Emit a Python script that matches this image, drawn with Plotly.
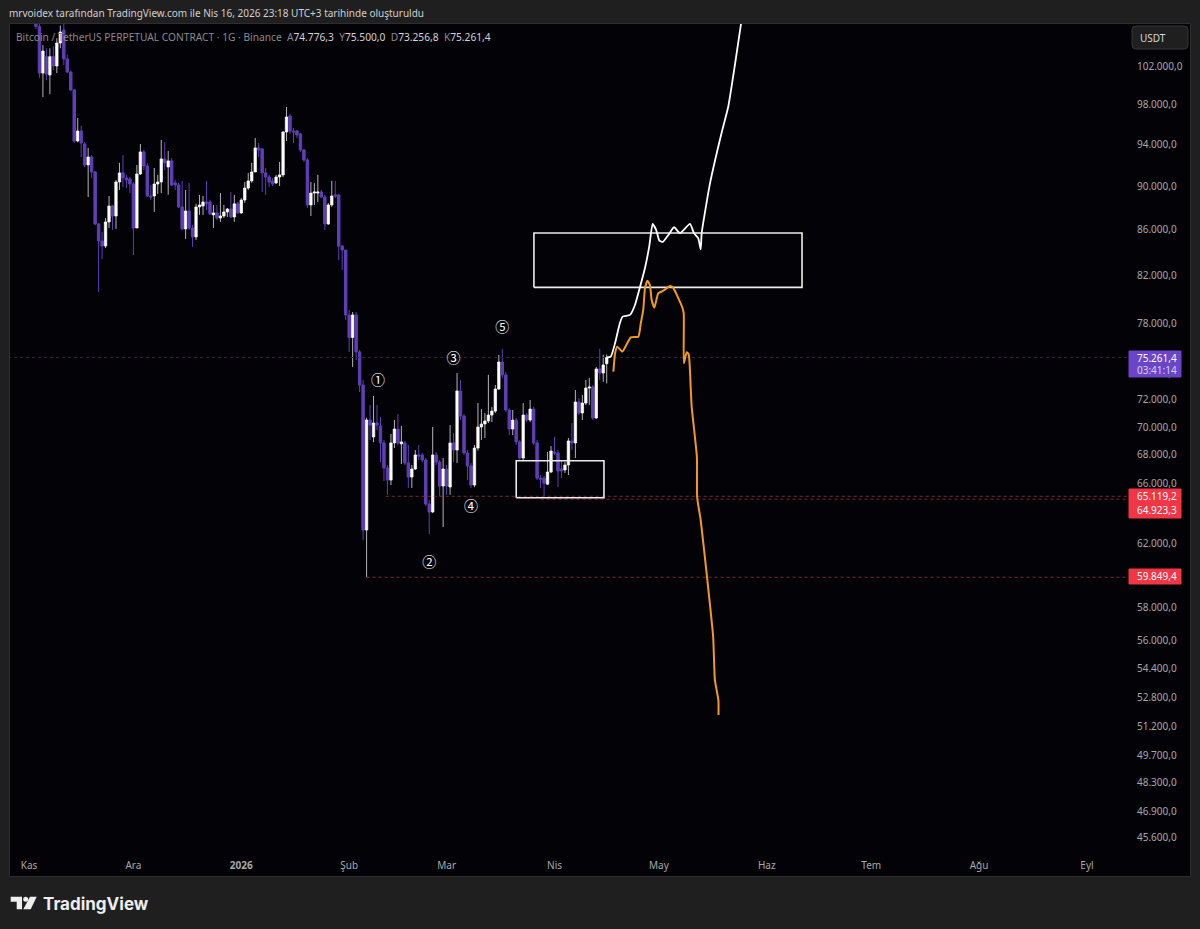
import pandas as pd
import plotly.graph_objects as go

# candles, Nov 3 2025 -> Apr 16 2026
opens = [107000,106300,101250,103000,101050,103000,102000,104480,105900,102750,
         101360,99480,94330,95320,94030,92000,92770,91330,86510,84990,
         84540,86690,88150,87230,90380,91240,90760,90660,90190,86140,
         91140,93260,91900,89070,89070,90190,90380,92580,91800,92390,
         90290,90100,88060,86060,87690,86140,85350,88060,88150,88520,
         88520,87330,87510,87050,87230,87600,87870,87140,88340,87510,
         88700,89810,90480,91330,93650,93550,91240,90850,90480,90290,
         90850,91050,95220,96820,95320,95320,95020,93450,92480,88240,
         89340,89340,89440,88970,86510,88240,89170,89170,84540,84190,
         78680,76850,78680,75700,73130,62870,70510,69280,70290,70070,
         68850,67070,66230,68850,69850,68780,68850,67420,66440,67000,
         67990,67990,67630,64600,64060,67990,67490,65820,67000,65750,
         68850,68340,72680,70800,68130,67210,65890,68480,70000,70220,
         70440,70880,71170,72830,74910,73910,71250,69850,70510,68920,
         67770,70880,70510,71320,68850,66370,66370,65950,66790,68200,
         68130,67000,66930,67280,68990,68850,71850,71030,71770,72900,
         72980,70660,74370,74060,74776.3]
highs = [108000,108000,104250,103900,103900,104100,105000,106400,107000,103200,
         101500,99600,96620,95820,94230,93650,92960,91400,86600,85790,
         87040,89070,88240,90570,92200,92960,91050,90850,90380,92000,
         94030,93450,92200,90100,91710,91050,94430,94230,93350,92670,
         90570,90290,90480,89630,90290,86420,88350,89170,89070,90480,
         88700,88240,88240,89340,88240,87960,89440,89170,88520,88880,
         90380,91240,92200,94630,94130,93650,91710,91050,90760,91050,
         92290,95320,97730,97030,95620,95420,95120,93550,92670,90380,
         90290,91050,89630,89170,88430,90480,90480,89260,84630,84190,
         79090,78920,78920,75860,73520,70680,71620,72300,71620,70730,
         69060,67280,69490,70510,70950,70070,68990,68700,67280,68340,
         68700,68130,67770,64870,70000,68200,67630,67770,67280,70140,
         69560,74060,73520,70950,68340,67420,68700,71770,71320,71030,
         73910,71470,73130,75470,75940,74140,71400,71250,70660,69060,
         71770,71030,72000,71470,69060,66580,66510,68200,68620,69280,
         68340,67630,67490,69200,70290,72750,72150,72380,73520,73680,
         73130,74520,75940,75470,75500]
lows = [106000,100750,98750,100500,99050,101575,101250,103900,102100,101250,
        99400,94130,94200,92770,91800,88970,90760,86400,80590,83400,
        84360,86150,85970,86060,89630,89900,89810,89340,83750,86140,
        91050,91520,88970,88700,87600,89260,89340,91520,89180,90000,
        89630,87960,85970,85170,85970,84460,85080,87330,87330,87780,
        87330,86150,86870,86690,87050,87140,87050,86690,87420,87420,
        88430,89630,90290,91330,92770,89440,89170,89900,90000,90190,
        90000,90850,94330,95020,94130,94630,93260,92290,87960,87230,
        88240,88520,88880,85970,86420,88060,88880,83320,82460,78270,
        75700,74520,75070,72600,62210,59849,69060,68900,69780,67490,
        66160,65220,65890,68480,68700,67350,67280,65690,65690,66930,
        67630,67490,64460,62610,63990,67280,65120,63060,65220,65220,
        67490,67420,70510,67990,66230,65690,65750,68300,69060,69200,
        70290,70360,71030,72750,73680,71100,69420,69420,68700,67630,
        67630,70360,70360,68700,66230,65690,65120,65890,66720,67990,
        65750,66370,66720,66580,68340,67770,70880,70510,71620,71620,
        70510,70590,73520,73370,73256.8]
closes = [106300,101250,103600,101150,103000,102000,104480,105680,102750,101360,
          99480,94330,95320,94130,92000,92770,91330,86510,84990,84540,
          86690,88150,87230,90380,91240,90760,90570,90190,86140,91140,
          93260,91900,89070,88970,90190,90380,92580,92200,92390,90100,
          90100,88060,86060,87690,86140,85350,88060,88240,88520,88340,
          87420,87510,87050,87230,87600,87870,87140,88340,87510,88700,
          89810,90480,91330,93650,93450,91240,90850,90380,90190,90850,
          91050,95220,96720,95320,95220,94920,93450,92480,88240,89340,
          89440,89440,88970,86510,88240,89070,89070,84540,84190,78680,
          76850,78680,75700,73130,62870,70510,70140,70290,70140,68850,
          67070,66230,68850,69850,68850,68920,67420,66440,67000,67990,
          67920,67630,64600,64060,67990,67490,65820,67000,65820,68850,
          68340,72680,70800,68130,67210,65890,68480,70000,70220,70440,
          70880,71170,72830,74910,73910,71250,69850,70510,68920,67770,
          70880,70510,71320,68850,66370,66300,66020,66790,68270,68130,
          66860,66860,67280,68990,68850,71850,71030,71770,72900,72980,
          70660,74370,74060,74680,75261.4]
dates = pd.date_range(end="2026-04-16", periods=len(closes), freq="D")

# hand drawn paths
white_dates = ["2026-04-16", "2026-04-17 04:00", "2026-04-18 10:00", "2026-04-19 19:00", "2026-04-20 14:00",
               "2026-04-22 17:00", "2026-04-24 03:00", "2026-04-25 14:00", "2026-04-27", "2026-04-28 05:00",
               "2026-04-29 05:00", "2026-04-30 05:00", "2026-05-01 03:00", "2026-05-02 03:00", "2026-05-03 17:00",
               "2026-05-05 08:00", "2026-05-07 02:00", "2026-05-09 22:00", "2026-05-11 02:00", "2026-05-12 07:00",
               "2026-05-13", "2026-05-13 07:00", "2026-05-15 17:00", "2026-05-19", "2026-05-20 22:00",
               "2026-05-22 22:00", "2026-05-24 14:00", "2026-05-25 05:00"]
white_prices = [75261, 75330, 76410, 78020, 78540, 78680, 79500, 81030, 82630, 84480,
                86510, 85970, 85020, 84900, 85520, 86210, 85680, 86510, 85680, 85230,
                84250, 85700, 90290, 95120, 97760, 102320, 106570, 108130]
orange_dates = ["2026-04-17 22:00", "2026-04-18 10:00", "2026-04-19 01:00", "2026-04-20 12:00", "2026-04-22 22:00",
                "2026-04-25 02:00", "2026-04-25 19:00", "2026-04-26 12:00", "2026-04-27", "2026-04-27 17:00",
                "2026-04-28 10:00", "2026-04-28 22:00", "2026-04-29 17:00", "2026-04-30 19:00", "2026-05-02 07:00",
                "2026-05-04 05:00", "2026-05-05", "2026-05-07 17:00", "2026-05-08 03:00", "2026-05-08 04:00",
                "2026-05-09", "2026-05-09 14:00", "2026-05-10 03:00", "2026-05-10 10:00", "2026-05-11 22:00",
                "2026-05-12", "2026-05-13", "2026-05-14 17:00", "2026-05-16 14:00", "2026-05-17 02:00",
                "2026-05-18 02:00", "2026-05-18 03:00"]
orange_prices = [74160, 75620, 76120, 75730, 76860, 76910, 78000, 79090, 80890, 81540,
                 81170, 79910, 79280, 80470, 80690, 81090, 80980, 79310, 78820, 74810,
                 75680, 75470, 73000, 71500, 67830, 65020, 63530, 60090, 56250, 53770,
                 52650, 51840]

# drawn boxes: date from, date to, price low, price high
big_box = ["2026-03-26 02:00", "2026-06-11 03:00", 80970, 85700]
small_box = ["2026-03-21", "2026-04-15 05:00", 65020, 67580]

wave_labels = ["①", "②", "③", "④", "⑤"]
wave_dates = ["2026-02-09 07:00", "2026-02-24", "2026-03-03", "2026-03-08", "2026-03-17"]
wave_prices = [73440, 60740, 75070, 64390, 77610]

# dotted price levels
level_prices = [75261.4, 65119.2, 64923.3, 59849.4]
level_starts = ["2025-10-26", "2026-02-11 12:00", "2026-03-28", "2026-02-06"]
level_colors = ["#33202f", "#7a2a34", "#7a2a34", "#7a2a34"]

price_ticks = [102000, 98000, 94000, 90000, 86000, 82000, 78000, 74000, 72000, 70000, 68000, 66000,
               64000, 62000, 60000, 58000, 56000, 54400, 52800, 51200, 49700, 48300, 46900, 45600]
price_tick_text = ["102.000,0", "98.000,0", "94.000,0", "90.000,0", "86.000,0", "82.000,0", "78.000,0",
                   "74.000,0", "72.000,0", "70.000,0", "68.000,0", "66.000,0", "64.000,0", "62.000,0",
                   "60.000,0", "58.000,0", "56.000,0", "54.400,0", "52.800,0", "51.200,0", "49.700,0",
                   "48.300,0", "46.900,0", "45.600,0"]
month_ticks = ["2025-11-01", "2025-12-01", "2026-01-01", "2026-02-01", "2026-03-01", "2026-04-01",
               "2026-05-01", "2026-06-01", "2026-07-01", "2026-08-01", "2026-09-01"]
month_text = ["Kas", "Ara", "<b>2026</b>", "Şub", "Mar", "Nis", "May", "Haz", "Tem", "Ağu", "Eyl"]

W, H = 1200, 929
L, R, T, B = 10, 1127, 24, 850
PURPLE = "#5f3fb6"
FONT = "Noto Sans"


def px(x):
    return (x - L) / (R - L)


def py(y):
    return (B - y) / (B - T)


def box(x0, y0, x1, y1, fill, line=None):
    return dict(type="rect", xref="paper", yref="paper", x0=px(x0), x1=px(x1), y0=py(y0), y1=py(y1),
                fillcolor=fill, line=dict(color=line or fill, width=1), layer="below" if line else "above")


def note(x, y, text, size=10, color="#d8d8d8", anchor="left", family=FONT):
    return dict(xref="paper", yref="paper", x=px(x), y=py(y), text=text, showarrow=False, xanchor=anchor,
                yanchor="middle", align="left", borderpad=0, font=dict(size=size, color=color, family=family))


fig = go.Figure()
fig.add_trace(go.Candlestick(x=dates, open=opens, high=highs, low=lows, close=closes, whiskerwidth=0,
                             increasing=dict(fillcolor="#ffffff", line=dict(color="rgba(255,255,255,0.7)", width=1)),
                             decreasing=dict(fillcolor=PURPLE, line=dict(color=PURPLE, width=1)),
                             hoverinfo="skip"))

for price, start, color in zip(level_prices, level_starts, level_colors):
    fig.add_trace(go.Scatter(x=[start, "2026-09-12 12:00"], y=[price, price], mode="lines",
                             line=dict(color=color, width=1, dash="dot"), hoverinfo="skip"))

for b, color in [(big_box, "#ececec"), (small_box, "#ececec")]:
    fig.add_trace(go.Scatter(x=[b[0], b[1], b[1], b[0], b[0]], y=[b[2], b[2], b[3], b[3], b[2]], mode="lines",
                             line=dict(color=color, width=1.6), hoverinfo="skip"))

fig.add_trace(go.Scatter(x=orange_dates, y=orange_prices, mode="lines",
                         line=dict(color="#f39a1e", width=2, shape="spline", smoothing=0.5), hoverinfo="skip"))
fig.add_trace(go.Scatter(x=white_dates, y=white_prices, mode="lines",
                         line=dict(color="#ffffff", width=1.8, shape="spline", smoothing=0.5), hoverinfo="skip"))
fig.add_trace(go.Scatter(x=wave_dates, y=wave_prices, mode="text", text=wave_labels,
                         textfont=dict(size=14, color="#ffffff", family="Noto Sans CJK JP"), hoverinfo="skip"))

dim = "#8a8a8a"
val = "#d4d4d4"
gap = "\u00a0"
legend_text = (f"<span style='color:{dim}'>Bitcoin / TetherUS PERPETUAL CONTRACT · 1G · Binance{gap}{gap}A</span>74.776,3"
               f"<span style='color:{dim}'>{gap}{gap}Y</span>75.500,0<span style='color:{dim}'>{gap}{gap}D</span>73.256,8"
               f"<span style='color:{dim}'>{gap}{gap}K</span>75.261,4")

shapes = [
    box(9.5, 23.5, 1190.5, 876.5, "#030206", "#2e2e2e"),
    box(1129, 351, 1181, 377, "#6a45c8"),
    box(1129, 489, 1181, 518, "#f23645"),
    box(1129, 569, 1181, 584, "#f23645"),
    dict(type="path", xref="paper", yref="paper", layer="above", fillcolor="#1f1f1f",
         line=dict(color="#363636", width=1),
         path=f"M {px(1136)} {py(26)} L {px(1184)} {py(26)} Q {px(1188)} {py(26)} {px(1188)} {py(30)} "
              f"L {px(1188)} {py(45)} Q {px(1188)} {py(49)} {px(1184)} {py(49)} L {px(1136)} {py(49)} "
              f"Q {px(1132)} {py(49)} {px(1132)} {py(45)} L {px(1132)} {py(30)} Q {px(1132)} {py(26)} {px(1136)} {py(26)} Z"),
    # logo
    dict(type="path", xref="paper", yref="paper", fillcolor="#eeeeee", line=dict(width=0),
         path=f"M {px(10.7)} {py(896.7)} L {px(22)} {py(896.7)} L {px(22)} {py(909.3)} L {px(16.7)} {py(909.3)} "
              f"L {px(16.7)} {py(901.7)} L {px(10.7)} {py(901.7)} Z"),
    dict(type="circle", xref="paper", yref="paper", fillcolor="#eeeeee", line=dict(width=0),
         x0=px(23.2), x1=px(28.2), y0=py(901.8), y1=py(896.8)),
    dict(type="path", xref="paper", yref="paper", fillcolor="#eeeeee", line=dict(width=0),
         path=f"M {px(30)} {py(896.7)} L {px(36.7)} {py(896.7)} L {px(30.7)} {py(909.3)} L {px(23.3)} {py(909.3)} Z"),
]

annotations = [
    note(8, 13, "mrvoidex tarafından TradingView.com ile Nis 16, 2026 23:18 UTC+3 tarihinde oluşturuldu", color="#d0d0d0"),
    note(15, 37, legend_text, size=10.2, color=val),
    note(1139, 37.5, "USDT", color="#d8d8d8"),
    note(1136, 358, "75.261,4", color="#ffffff"),
    note(1136, 370, "03:41:14", color="#d9d0f2"),
    note(1136, 496, "65.119,2", color="#ffffff"),
    note(1136, 510, "64.923,3", color="#ffffff"),
    note(1136, 576.5, "59.849,4", color="#ffffff"),
    note(42, 903.5, "<b>TradingView</b>", size=17, color="#eeeeee", family="Inter"),
]

fig.update_layout(
    width=W, height=H, showlegend=False, boxgap=0.3, boxgroupgap=0,
    margin=dict(l=L, r=W - R, t=T, b=H - B),
    paper_bgcolor="#1f1f1f", plot_bgcolor="rgba(0,0,0,0)",
    shapes=shapes, annotations=annotations,
    font=dict(family=FONT, size=10, color="#a8a8a8"),
    xaxis=dict(rangeslider=dict(visible=False), range=["2025-10-26 13:00", "2026-09-12 12:00"],
               tickvals=month_ticks, ticktext=month_text, showgrid=False, zeroline=False, showline=False,
               ticks="", tickfont=dict(size=10, color="#a8a8a8"), ticklabelstandoff=8),
    yaxis=dict(type="log", side="right", range=[4.65352, 5.02762], tickvals=price_ticks, ticktext=price_tick_text,
               showgrid=False, zeroline=False, showline=False, ticks="", tickfont=dict(size=10, color="#a8a8a8"),
               ticklabelstandoff=9),
)

# the page body has a default margin, drop it so the chart sits at 0,0
fig.write_html("out.html", config={"displayModeBar": False}, post_script="document.body.style.margin='0';")
